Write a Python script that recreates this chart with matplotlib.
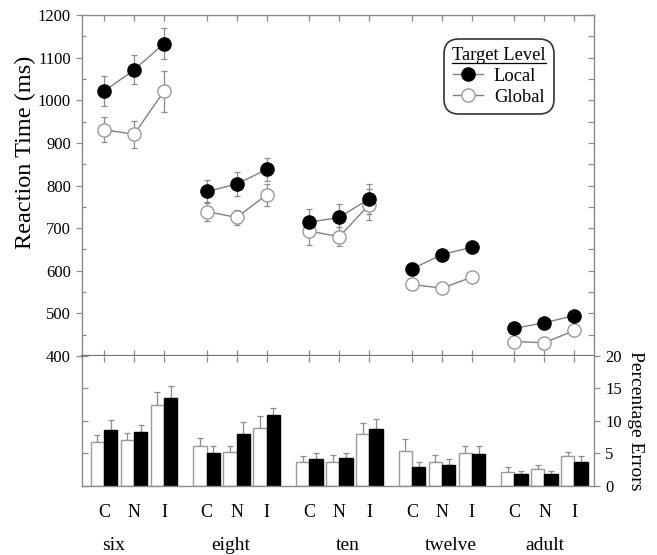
import matplotlib
matplotlib.use("Agg")
import matplotlib.pyplot as plt
import numpy as np
from matplotlib.transforms import blended_transform_factory
from matplotlib.lines import Line2D

plt.rcParams['font.family'] = ['Liberation Serif', 'DejaVu Serif']

groups = ['six', 'eight', 'ten', 'twelve', 'adult']
conds = ['C', 'N', 'I']

rt_local = [[1021, 1071, 1133], [786, 803, 838], [714, 725, 769], [604, 638, 655], [465, 478, 495]]
rt_local_err = [[35, 34, 37], [28, 28, 27], [32, 31, 35], [15, 12, 14], [8, 8, 8]]
rt_global = [[931, 920, 1021], [739, 725, 778], [693, 680, 755], [568, 559, 585], [434, 431, 460]]
rt_global_err = [[30, 31, 48], [23, 18, 25], [32, 23, 37], [8, 8, 8], [6, 6, 6]]

pe_global = [[6.7, 7.1, 12.4], [6.1, 5.2, 8.9], [3.6, 3.7, 7.9], [5.4, 3.7, 5.0], [2.05, 2.5, 4.5]]
pe_global_err = [[1.05, 1.0, 2.1], [1.3, 0.9, 1.9], [0.9, 1.0, 1.7], [1.8, 1.0, 1.1], [0.85, 0.6, 0.7]]
pe_local = [[8.6, 8.2, 13.5], [5.0, 8.0, 10.9], [4.1, 4.3, 8.8], [2.9, 3.1, 4.9], [1.75, 1.75, 3.6]]
pe_local_err = [[1.45, 1.1, 1.8], [1.1, 1.8, 1.1], [0.9, 0.7, 1.4], [0.8, 1.0, 1.2], [0.55, 0.55, 0.9]]

gap = 3.42
pos = [[g * gap + c for c in range(len(conds))] for g in range(len(groups))]
xlim = (-0.733, 16.33)

W, H = 657, 555
fig = plt.figure(figsize=(W / 100, H / 100), dpi=100)

def fx(px):
    return px / W

def fy(py):
    return 1 - py / H

spine_c = '#8a8a8a'
line_c = '#808080'
open_c = '#9a9a9a'
err_c = '#8c8c8c'

# ---------- top panel ----------
ax = fig.add_axes([fx(82), fy(356), fx(594) - fx(82), (356 - 15) / H])
for g in range(len(groups)):
    ax.errorbar(pos[g], rt_global[g], yerr=rt_global_err[g], fmt='none', ecolor=err_c,
                elinewidth=0.9, capsize=2.2, capthick=0.9, zorder=2)
    ax.errorbar(pos[g], rt_local[g], yerr=rt_local_err[g], fmt='none', ecolor=err_c,
                elinewidth=0.9, capsize=2.2, capthick=0.9, zorder=2)
    ax.plot(pos[g], rt_global[g], '-', color=line_c, lw=1.0, marker='o', ms=9.5,
            mfc='white', mec=open_c, mew=1.0, zorder=3)
    ax.plot(pos[g], rt_local[g], '-', color=line_c, lw=1.0, marker='o', ms=9.5,
            mfc='black', mec='black', mew=1.0, zorder=4)

ax.set_xlim(*xlim)
ax.set_ylim(400, 1200)
ax.set_yticks(np.arange(400, 1201, 100))
ax.set_yticks(np.arange(450, 1200, 100), minor=True)
ax.set_xticks([p for grp in pos for p in grp])
ax.set_xticklabels([])
ax.tick_params(axis='x', which='major', top=True, bottom=True, direction='in', length=4,
               color=spine_c, width=0.9)
ax.tick_params(axis='y', which='major', left=True, right=False, direction='out', length=4,
               color=spine_c, width=0.9, labelsize=12, pad=4)
ax.tick_params(axis='y', which='minor', left=True, right=False, direction='in', length=3,
               color=spine_c, width=0.9)
for s in ['left', 'top', 'right']:
    ax.spines[s].set_color(spine_c)
    ax.spines[s].set_linewidth(1.0)
ax.spines['bottom'].set_color('#707070')
ax.spines['bottom'].set_linewidth(1.6)

axr = ax.twinx()
axr.set_ylim(400, 1200)
axr.set_yticks(np.arange(400, 1201, 50))
axr.set_yticklabels([])
axr.tick_params(axis='y', direction='in', length=4, color=spine_c, width=0.9)
for s in axr.spines.values():
    s.set_visible(False)

fig.text(fx(25), fy(152), 'Reaction Time (ms)', rotation=90, ha='center', va='center',
         fontsize=17.5)

# legend
h_local = Line2D([], [], color=line_c, lw=1.0, marker='o', ms=9.5, mfc='black', mec='black')
h_global = Line2D([], [], color=line_c, lw=1.0, marker='o', ms=9.5, mfc='white', mec=open_c)
leg = ax.legend([h_local, h_global], ['Local', 'Global'], title='Target Level',
                loc='upper left', bbox_to_anchor=(0.712, 0.922), fontsize=13.3,
                title_fontsize=13.3, frameon=True, fancybox=True, handlelength=1.6,
                handletextpad=0.6, borderpad=0.3, labelspacing=0.2, borderaxespad=0)
frame = leg.get_frame()
frame.set_edgecolor('black')
frame.set_linewidth(1.2)
frame.set_boxstyle('round,pad=0.15,rounding_size=0.8')
leg.set_zorder(10)

# ---------- bottom panel ----------
bx = fig.add_axes([fx(82), fy(485.5), fx(594) - fx(82), (485.5 - 356) / H])
bw = 0.443
for g in range(len(groups)):
    xg = np.array(pos[g])
    bx.bar(xg - bw / 2, pe_global[g], width=bw, color='white', edgecolor='#9a9a9a',
           linewidth=1.0, zorder=2)
    bx.bar(xg + bw / 2, pe_local[g], width=bw, color='black', edgecolor='black',
           linewidth=1.0, zorder=2)
    bx.errorbar(xg - bw / 2, pe_global[g], yerr=[np.zeros(3), pe_global_err[g]], fmt='none',
                ecolor=err_c, elinewidth=0.9, capsize=2.2, capthick=0.9, zorder=1)
    bx.errorbar(xg + bw / 2, pe_local[g], yerr=[np.zeros(3), pe_local_err[g]], fmt='none',
                ecolor=err_c, elinewidth=0.9, capsize=2.2, capthick=0.9, zorder=1)

bx.set_xlim(*xlim)
bx.set_ylim(0, 20)
bx.set_xticks([p for grp in pos for p in grp])
bx.set_xticklabels(conds * len(groups), fontsize=13)
bx.tick_params(axis='x', bottom=False, top=True, labelbottom=True, direction='in', length=4,
               color=spine_c, width=0.9, pad=13)
bx.set_yticks([0, 5, 10, 15, 20])
bx.set_yticklabels([])
bx.tick_params(axis='y', left=True, right=False, direction='in', length=4, color=spine_c,
               width=0.9)
bx.spines['top'].set_visible(False)
for s in ['left', 'right', 'bottom']:
    bx.spines[s].set_color(spine_c)
    bx.spines[s].set_linewidth(1.0)

bxr = bx.twinx()
bxr.set_ylim(0, 20)
bxr.set_yticks([0, 5, 10, 15, 20])
bxr.tick_params(axis='y', direction='out', length=4, color=spine_c, width=0.9,
                labelsize=12, pad=4)
for s in bxr.spines.values():
    s.set_visible(False)
bxr.set_ylabel('Percentage Errors', rotation=270, fontsize=14, labelpad=16)

trans = blended_transform_factory(bx.transData, bx.transAxes)
label_off = [-0.67, -0.2, 0.27, 0.3, 0.0]
for g, name in enumerate(groups):
    bx.text(pos[g][1] + label_off[g], -0.46, name, transform=trans, ha='center', va='center',
            fontsize=14)

fig.canvas.draw()
tb = leg.get_title().get_window_extent(fig.canvas.get_renderer())
inv = fig.transFigure.inverted()
(x0, y0), (x1, y1) = inv.transform([[tb.x0, tb.y0], [tb.x1, tb.y0]])
fig.add_artist(Line2D([x0, x1], [y0 + 1.5 / H, y0 + 1.5 / H], color='black', lw=0.9))

fig.savefig('out.png', dpi=100)
